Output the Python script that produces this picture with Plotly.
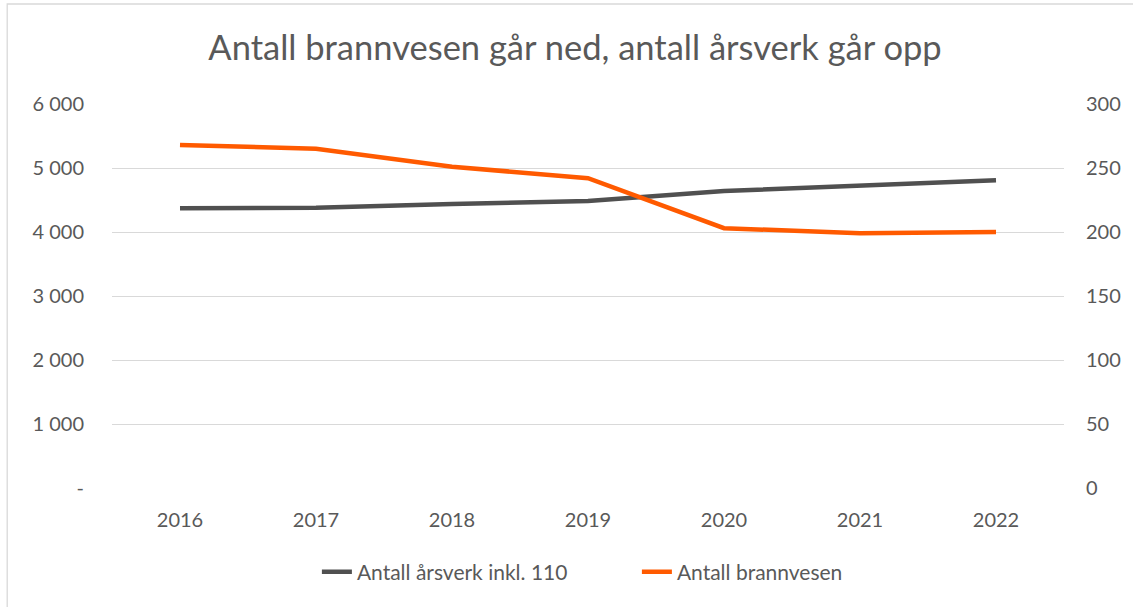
import plotly.graph_objects as go

years = ["2016", "2017", "2018", "2019", "2020", "2021", "2022"]
arsverk = [4370, 4380, 4437, 4484, 4640, 4723, 4808]
brannvesen = [268, 265, 251, 242, 203, 199, 200]

left_vals = [0, 1000, 2000, 3000, 4000, 5000, 6000]
left_text = ["-", "1 000", "2 000", "3 000", "4 000", "5 000", "6 000"]
right_vals = [0, 50, 100, 150, 200, 250, 300]

FONT = "Lato, Open Sans, sans-serif"
TXT = "#595959"

fig = go.Figure()
fig.add_trace(go.Scatter(x=years, y=arsverk, name="Antall årsverk inkl. 110",
                         mode="lines", line=dict(color="#505050", width=4.5)))
fig.add_trace(go.Scatter(x=years, y=brannvesen, name="Antall brannvesen",
                         mode="lines", line=dict(color="#FF5A00", width=4.5),
                         yaxis="y2"))

fig.update_layout(
    width=1133, height=607,
    margin=dict(l=112, r=67, t=104, b=119),
    paper_bgcolor="white", plot_bgcolor="white",
    font=dict(family=FONT, color=TXT, size=20),
    title=dict(text="Antall brannvesen går ned, antall årsverk går opp",
               x=575 / 1133, xref="container", xanchor="center",
               y=1 - 48 / 607, yanchor="middle",
               font=dict(size=34.5, color=TXT, family=FONT)),
    xaxis=dict(type="category", showgrid=False, showline=False, ticks="",
               ticklabelstandoff=18,
               tickfont=dict(size=20, color=TXT), range=[-0.5, 6.5]),
    yaxis=dict(range=[0, 6000], tickvals=left_vals, ticktext=left_text,
               showgrid=True, gridcolor="#d9d9d9", gridwidth=1.3,
               zeroline=False, showline=False, ticks="", ticklabelstandoff=27,
               tickfont=dict(size=20, color=TXT)),
    yaxis2=dict(range=[0, 300], tickvals=right_vals, overlaying="y", side="right",
                showgrid=False, zeroline=False, showline=False, ticks="",
                ticklabelstandoff=21,
                tickfont=dict(size=20, color=TXT)),
    legend=dict(orientation="h", x=526 / 954, xanchor="center",
                y=-0.219, yanchor="middle", entrywidth=275, entrywidthmode="pixels",
                font=dict(size=21, color=TXT), traceorder="normal"),
    showlegend=True,
)

fig.add_shape(type="rect", xref="paper", yref="paper",
              x0=-105 / 954, x1=(1140 - 112) / 954,
              y0=(488 - 640) / 384, y1=(488 - 4) / 384,
              line=dict(color="#d9d9d9", width=1.3), fillcolor="rgba(0,0,0,0)",
              layer="below")

fig.write_html("out.html", config={"displayModeBar": False},
               post_script="document.body.style.margin='0';document.body.style.padding='0';")
